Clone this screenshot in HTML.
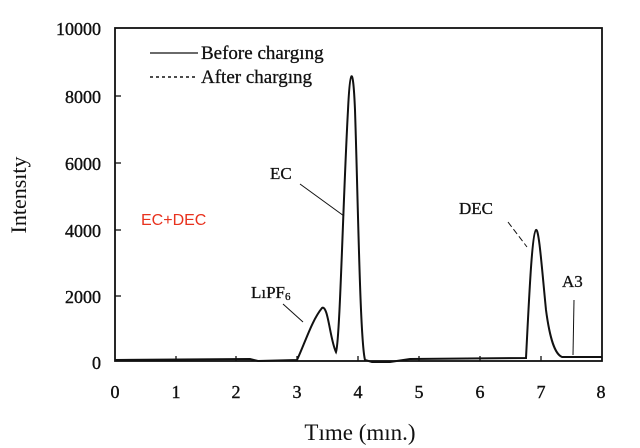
<!DOCTYPE html>
<html><head><style>body{margin:0;background:#fff}svg{display:block}text{font-family:"Liberation Serif",serif;fill:#111}</style></head>
<body>
<svg width="640" height="448" viewBox="0 0 640 448">
<rect x="115" y="28" width="487" height="333" fill="none" stroke="#111" stroke-width="1.8"/>
<g stroke="#111" stroke-width="1.3">
<line x1="115" y1="96" x2="121" y2="96"/><line x1="115" y1="163" x2="121" y2="163"/><line x1="115" y1="230" x2="121" y2="230"/><line x1="115" y1="296" x2="121" y2="296"/>
<line x1="176" y1="361" x2="176" y2="356"/><line x1="236" y1="361" x2="236" y2="356"/><line x1="297" y1="361" x2="297" y2="356"/><line x1="358" y1="361" x2="358" y2="356"/><line x1="419" y1="361" x2="419" y2="356"/><line x1="480" y1="361" x2="480" y2="356"/><line x1="541" y1="361" x2="541" y2="356"/>
</g>
<g font-size="18" text-anchor="end" stroke="#111" stroke-width="0.4">
<text x="101" y="35">10000</text><text x="101" y="103">8000</text><text x="101" y="170">6000</text><text x="101" y="237">4000</text><text x="101" y="303">2000</text><text x="101" y="369">0</text>
</g>
<g font-size="18" text-anchor="middle" stroke="#111" stroke-width="0.4">
<text x="115" y="398">0</text><text x="176" y="398">1</text><text x="236" y="398">2</text><text x="297" y="398">3</text><text x="358" y="398">4</text><text x="419" y="398">5</text><text x="480" y="398">6</text><text x="541" y="398">7</text><text x="601" y="398">8</text>
</g>
<text x="360" y="440" font-size="23" text-anchor="middle">Tıme (mın.)</text>
<text transform="translate(26,195) rotate(-90)" font-size="22" text-anchor="middle">Intensıty</text>
<path d="M115 360 L250 359 L258 361 L297 360 C305 343 312 320 322 308 C328 304 330 340 336 352 C340 340 343 200 348 110 C350 68 353 62 355 110 C358 200 360 340 365 360 L372 362 L390 362 L410 359 L526 358 C529 300 532 232 536 230 C539 228 542 270 546 310 C550 340 555 354 562 357 L602 357" fill="none" stroke="#111" stroke-width="2"/>
<line x1="300" y1="184" x2="344" y2="216" stroke="#111" stroke-width="1"/>
<line x1="508" y1="222" x2="527" y2="247" stroke="#111" stroke-width="1" stroke-dasharray="6,3"/>
<line x1="283" y1="304" x2="303" y2="322" stroke="#111" stroke-width="1"/>
<line x1="574" y1="300" x2="573" y2="355" stroke="#111" stroke-width="1"/>
<line x1="150" y1="53" x2="198" y2="53" stroke="#111" stroke-width="1.3"/>
<line x1="150" y1="77" x2="198" y2="77" stroke="#111" stroke-width="1.6" stroke-dasharray="3,3"/>
<g font-size="19" stroke="#111" stroke-width="0.3">
<text x="201" y="59">Before chargıng</text><text x="201" y="83">After  chargıng</text>
</g>
<g font-size="17" stroke="#111" stroke-width="0.3">
<text x="270" y="179">EC</text><text x="459" y="214">DEC</text><text x="251" y="298">LıPF<tspan font-size="11" dy="2">6</tspan></text><text x="562" y="287">A3</text>
</g>
<text x="141" y="225" font-size="16" style="font-family:'Liberation Sans',sans-serif;fill:#e8321e">EC+DEC</text>
</svg>
</body></html>
